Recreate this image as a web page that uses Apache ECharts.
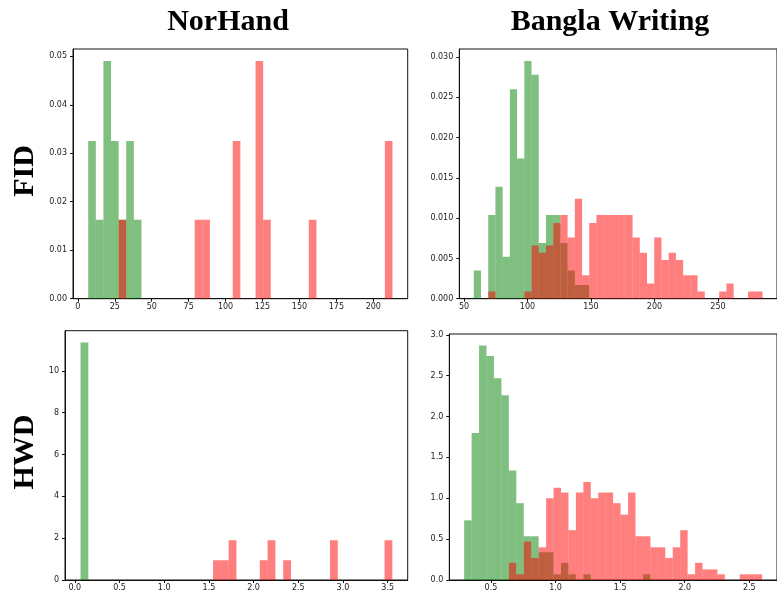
<!DOCTYPE html>
<html>
<head>
<meta charset="utf-8">
<script src="https://cdn.jsdelivr.net/npm/echarts@6/dist/echarts.min.js"></script>
<style>
html, body { margin: 0; padding: 0; background: #fff; }
#chart { width: 777px; height: 592px; }
</style>
</head>
<body>
<div id="chart"></div>
<script>
const colTitles = ['NorHand', 'Bangla Writing']
const rowTitles = ['FID', 'HWD']

// FID / NorHand (40 shared bins)
const fidNorStart = 7.0
const fidNorWidth = 5.15
const fidNorGreen = [0.0325, 0.0163, 0.049, 0.0325, 0.0163, 0.0325, 0.0163, 0, 0, 0,
	0, 0, 0, 0, 0, 0, 0, 0, 0, 0,
	0, 0, 0, 0, 0, 0, 0, 0, 0, 0,
	0, 0, 0, 0, 0, 0, 0, 0, 0, 0]
const fidNorRed = [0, 0, 0, 0, 0.0163, 0, 0, 0, 0, 0,
	0, 0, 0, 0, 0.0163, 0.0163, 0, 0, 0, 0.0325,
	0, 0, 0.049, 0.0163, 0, 0, 0, 0, 0, 0.0163,
	0, 0, 0, 0, 0, 0, 0, 0, 0, 0.0325]
const fidNorXTicks = [0, 25, 50, 75, 100, 125, 150, 175, 200]
const fidNorYTicks = [0, 0.01, 0.02, 0.03, 0.04, 0.05]

// FID / Bangla Writing
const fidBanStart = 57.7
const fidBanWidth = 5.685
const fidBanGreen = [0.0035, 0, 0.0104, 0.0139, 0.0052, 0.026, 0.0174, 0.0295, 0.0278, 0.0069,
	0.0104, 0.0104, 0.0069, 0.0035, 0.0017, 0.0017, 0, 0, 0, 0,
	0, 0, 0, 0, 0, 0, 0, 0, 0, 0,
	0, 0, 0, 0, 0, 0, 0, 0, 0, 0]
const fidBanRed = [0, 0, 0.0009, 0, 0, 0, 0, 0.0009, 0.0066, 0.0057,
	0.0066, 0.0094, 0.0104, 0.0076, 0.0124, 0.0029, 0.0094, 0.0104, 0.0104, 0.0104,
	0.0104, 0.0104, 0.0076, 0.0057, 0.0019, 0.0076, 0.0048, 0.0057, 0.0048, 0.0029,
	0.0029, 0.0009, 0, 0, 0.0009, 0.0019, 0, 0, 0.0009, 0.0009]
const fidBanXTicks = [50, 100, 150, 200, 250]
const fidBanYTicks = [0, 0.005, 0.01, 0.015, 0.02, 0.025, 0.03]

// HWD / NorHand
const hwdNorStart = 0.064
const hwdNorWidth = 0.0872
const hwdNorGreen = [11.35, 0, 0, 0, 0, 0, 0, 0, 0, 0,
	0, 0, 0, 0, 0, 0, 0, 0, 0, 0,
	0, 0, 0, 0, 0, 0, 0, 0, 0, 0,
	0, 0, 0, 0, 0, 0, 0, 0, 0, 0]
const hwdNorRed = [0, 0, 0, 0, 0, 0, 0, 0, 0, 0,
	0, 0, 0, 0, 0, 0, 0, 0.95, 0.95, 1.9,
	0, 0, 0, 0.95, 1.9, 0, 0.95, 0, 0, 0,
	0, 0, 1.9, 0, 0, 0, 0, 0, 0, 1.9]
const hwdNorXTicks = [0, 0.5, 1, 1.5, 2, 2.5, 3, 3.5]
const hwdNorYTicks = [0, 2, 4, 6, 8, 10]

// HWD / Bangla Writing
const hwdBanStart = 0.293
const hwdBanWidth = 0.05765
const hwdBanGreen = [0.73, 1.80, 2.87, 2.74, 2.47, 2.26, 1.34, 0.94, 0.535, 0.535,
	0.34, 0.34, 0.07, 0.21, 0.07, 0, 0.07, 0, 0, 0,
	0, 0, 0, 0, 0.07, 0, 0, 0, 0, 0,
	0, 0, 0, 0, 0, 0, 0, 0, 0, 0]
const hwdBanRed = [0, 0, 0, 0, 0, 0, 0.21, 0.07, 0.47, 0.27,
	0.40, 1.0, 1.13, 1.07, 0.61, 1.07, 1.20, 1.0, 1.07, 1.07,
	0.94, 0.80, 1.07, 0.535, 0.535, 0.40, 0.40, 0.27, 0.40, 0.61,
	0.07, 0.21, 0.13, 0.13, 0.07, 0, 0, 0.07, 0.07, 0.07]
const hwdBanXTicks = [0.5, 1, 1.5, 2, 2.5]
const hwdBanYTicks = [0, 0.5, 1, 1.5, 2, 2.5, 3]

const GREEN = 'rgba(0,128,0,0.5)'
const RED = 'rgba(255,0,0,0.5)'
const TICK_FONT = 'DejaVu Sans'

const panels = [
	{ grid: { left: 73, right: 369.3, top: 49, bottom: 293.3 }, xMin: -3.3, xMax: 223.3, yMax: 0.0515,
		start: fidNorStart, width: fidNorWidth, green: fidNorGreen, red: fidNorRed,
		xTicks: fidNorXTicks, yTicks: fidNorYTicks, xDec: 0, yDec: 2 },
	{ grid: { left: 459.3, right: -12, top: 49, bottom: 293.3 }, xMin: 46.3, xMax: 296.5, yMax: 0.031,
		start: fidBanStart, width: fidBanWidth, green: fidBanGreen, red: fidBanRed,
		xTicks: fidBanXTicks, yTicks: fidBanYTicks, xDec: 0, yDec: 3 },
	{ grid: { left: 65, right: 369.3, top: 330.7, bottom: 11 }, xMin: -0.11, xMax: 3.724, yMax: 11.92,
		start: hwdNorStart, width: hwdNorWidth, green: hwdNorGreen, red: hwdNorRed,
		xTicks: hwdNorXTicks, yTicks: hwdNorYTicks, xDec: 1, yDec: 0 },
	{ grid: { left: 449.3, right: -12.4, top: 334, bottom: 11 }, xMin: 0.178, xMax: 2.714, yMax: 3.01,
		start: hwdBanStart, width: hwdBanWidth, green: hwdBanGreen, red: hwdBanRed,
		xTicks: hwdBanXTicks, yTicks: hwdBanYTicks, xDec: 1, yDec: 1 }
]

// turn heights into [left, right, height] bins, skipping empty ones
const toBins = (start, width, heights) => {
	const out = []
	heights.forEach((h, i) => {
		if (h > 0) out.push([start + i * width, start + (i + 1) * width, h])
	})
	return out
}

const renderBin = (params, api) => {
	const p0 = api.coord([api.value(0), 0])
	const p1 = api.coord([api.value(1), api.value(2)])
	return {
		type: 'rect',
		shape: { x: p0[0], y: p1[1], width: p1[0] - p0[0], height: p0[1] - p1[1] },
		style: api.style()
	}
}

const axisLineStyle = { color: '#111', width: 1 }

const grids = []
const xAxes = []
const yAxes = []
const series = []

panels.forEach((p, idx) => {
	grids.push(Object.assign({ show: true, borderColor: '#111', borderWidth: 1, backgroundColor: 'transparent' }, p.grid))
	xAxes.push({
		type: 'value', gridIndex: idx, min: p.xMin, max: p.xMax,
		axisLine: { show: true, onZero: false, lineStyle: axisLineStyle },
		axisTick: { show: true, customValues: p.xTicks, length: 3, lineStyle: axisLineStyle },
		axisLabel: {
			customValues: p.xTicks, margin: 4, fontSize: 8, color: '#222', fontFamily: TICK_FONT,
			formatter: v => v.toFixed(p.xDec)
		},
		splitLine: { show: false }
	})
	yAxes.push({
		type: 'value', gridIndex: idx, min: 0, max: p.yMax,
		axisLine: { show: true, onZero: false, lineStyle: axisLineStyle },
		axisTick: { show: true, customValues: p.yTicks, length: 3, lineStyle: axisLineStyle },
		axisLabel: {
			customValues: p.yTicks, margin: 6, fontSize: 8, color: '#222', fontFamily: TICK_FONT,
			formatter: v => v.toFixed(p.yDec)
		},
		splitLine: { show: false }
	})
	series.push({
		type: 'custom', xAxisIndex: idx, yAxisIndex: idx, clip: true,
		renderItem: renderBin, itemStyle: { color: GREEN },
		encode: { x: [0, 1], y: 2 },
		data: toBins(p.start, p.width, p.green)
	})
	series.push({
		type: 'custom', xAxisIndex: idx, yAxisIndex: idx, clip: true,
		renderItem: renderBin, itemStyle: { color: RED },
		encode: { x: [0, 1], y: 2 },
		data: toBins(p.start, p.width, p.red)
	})
})

const headFont = 'bold 30px "Liberation Serif", "DejaVu Serif", serif'
const headStyle = txt => ({ text: txt, font: headFont, fill: '#000', textAlign: 'center', textVerticalAlign: 'middle', align: 'center', verticalAlign: 'middle' })
const graphics = [
	{ type: 'text', x: 228, y: 22, style: headStyle(colTitles[0]) },
	{ type: 'text', x: 610, y: 22, style: headStyle(colTitles[1]) },
	{ type: 'text', x: 25, y: 171, rotation: Math.PI / 2, style: headStyle(rowTitles[0]) },
	{ type: 'text', x: 25, y: 452, rotation: Math.PI / 2, style: headStyle(rowTitles[1]) }
]

const chart = echarts.init(document.getElementById('chart'))
chart.setOption({
	animation: false,
	backgroundColor: '#fff',
	grid: grids,
	xAxis: xAxes,
	yAxis: yAxes,
	series: series,
	graphic: graphics
})
</script>
</body>
</html>
